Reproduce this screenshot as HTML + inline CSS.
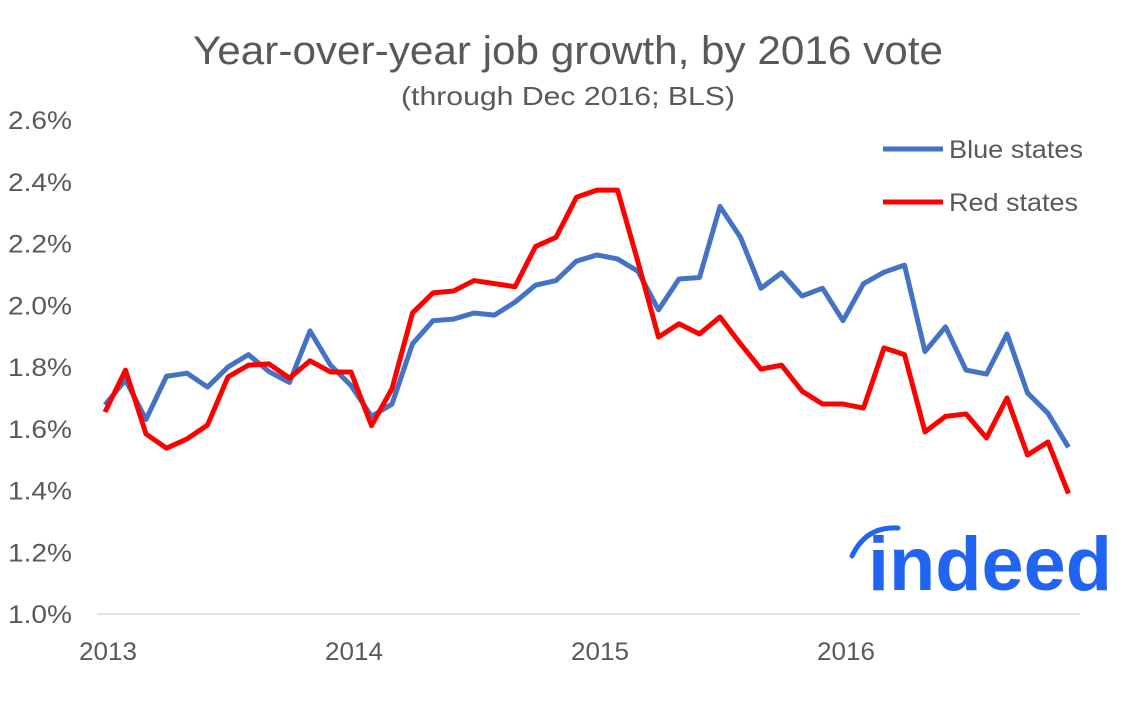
<!DOCTYPE html>
<html><head><meta charset="utf-8"><style>
body{margin:0;background:#fff;}
svg{display:block;font-family:"Liberation Sans",Arial,sans-serif;}
</style></head><body>
<svg id="chart" width="1134" height="704" viewBox="0 0 1134 704" xmlns="http://www.w3.org/2000/svg">
<rect width="1134" height="704" fill="#fff"/>
<text x="568" y="64" text-anchor="middle" font-size="40" fill="#595959" textLength="750" lengthAdjust="spacingAndGlyphs">Year-over-year job growth, by 2016 vote</text>
<text x="568" y="105" text-anchor="middle" font-size="26" fill="#595959" textLength="334" lengthAdjust="spacingAndGlyphs">(through Dec 2016; BLS)</text>
<g id="yaxis"></g>
<g id="xaxis"></g>
<line x1="97" y1="614" x2="1080" y2="614" stroke="#d9d9d9" stroke-width="1.5"/>
<g id="series"></g>
<g>
<line x1="883" y1="149" x2="943" y2="149" stroke="#4472c4" stroke-width="5"/>
<text x="949" y="158" font-size="25" fill="#595959" textLength="134" lengthAdjust="spacingAndGlyphs">Blue states</text>
<line x1="883" y1="202" x2="943" y2="202" stroke="#ff0000" stroke-width="5"/>
<text x="949" y="211" font-size="25" fill="#595959" textLength="129" lengthAdjust="spacingAndGlyphs">Red states</text>
</g>
<g>
<path d="M852 556 Q866 526 898 528" fill="none" stroke="#2164f3" stroke-width="5" stroke-linecap="round"/>
<text x="868" y="590" font-size="76" font-weight="bold" fill="#2164f3" textLength="244" lengthAdjust="spacingAndGlyphs">indeed</text>
</g>
</svg>
<script>
const yTicks=[1.0,1.2,1.4,1.6,1.8,2.0,2.2,2.4,2.6];
const xTickLabels=["2013","2014","2015","2016"];
const blueStates=[1.677,1.758,1.63,1.77,1.78,1.735,1.80,1.84,1.785,1.75,1.917,1.806,1.74,1.64,1.68,1.875,1.95,1.955,1.975,1.968,2.01,2.065,2.08,2.143,2.163,2.15,2.11,1.985,2.085,2.09,2.32,2.22,2.055,2.105,2.03,2.055,1.95,2.07,2.107,2.13,1.85,1.93,1.79,1.777,1.907,1.716,1.65,1.54];
const redStates=[1.654,1.79,1.583,1.537,1.567,1.612,1.768,1.806,1.81,1.764,1.82,1.784,1.784,1.61,1.73,1.975,2.04,2.046,2.08,2.07,2.06,2.19,2.22,2.35,2.373,2.373,2.14,1.897,1.94,1.907,1.962,1.875,1.793,1.806,1.722,1.68,1.68,1.667,1.862,1.84,1.59,1.64,1.648,1.57,1.70,1.515,1.557,1.39];
const NS="http://www.w3.org/2000/svg";
function y(v){return 614-(v-1.0)*308.75;}
function x(i){return 105+i*20.5;}
const ya=document.getElementById('yaxis');
yTicks.forEach(v=>{const t=document.createElementNS(NS,'text');


t.setAttribute('x',72);t.setAttribute('y',y(v)+9);t.setAttribute('text-anchor','end');
t.setAttribute('font-size','25');t.setAttribute('fill','#595959');t.setAttribute('textLength','64');t.setAttribute('lengthAdjust','spacingAndGlyphs');
t.textContent=v.toFixed(1)+'%';ya.appendChild(t);});
const xa=document.getElementById('xaxis');
xTickLabels.forEach((l,k)=>{const t=document.createElementNS(NS,'text');


t.setAttribute('x',x(k*12)+3);t.setAttribute('y',660);t.setAttribute('text-anchor','middle');
t.setAttribute('font-size','25');t.setAttribute('fill','#595959');t.setAttribute('textLength','58');t.setAttribute('lengthAdjust','spacingAndGlyphs');
t.textContent=l;xa.appendChild(t);});
const sg=document.getElementById('series');
[[blueStates,'#4472c4','blue-states-line'],[redStates,'#ff0000','red-states-line']].forEach(([d,c,n])=>{
const p=document.createElementNS(NS,'polyline');


p.setAttribute('points',d.map((v,i)=>x(i)+','+y(v)).join(' '));
p.setAttribute('fill','none');p.setAttribute('stroke',c);p.setAttribute('stroke-width','5');p.setAttribute('stroke-linejoin','round');
sg.appendChild(p);});
</script>
</body></html>
